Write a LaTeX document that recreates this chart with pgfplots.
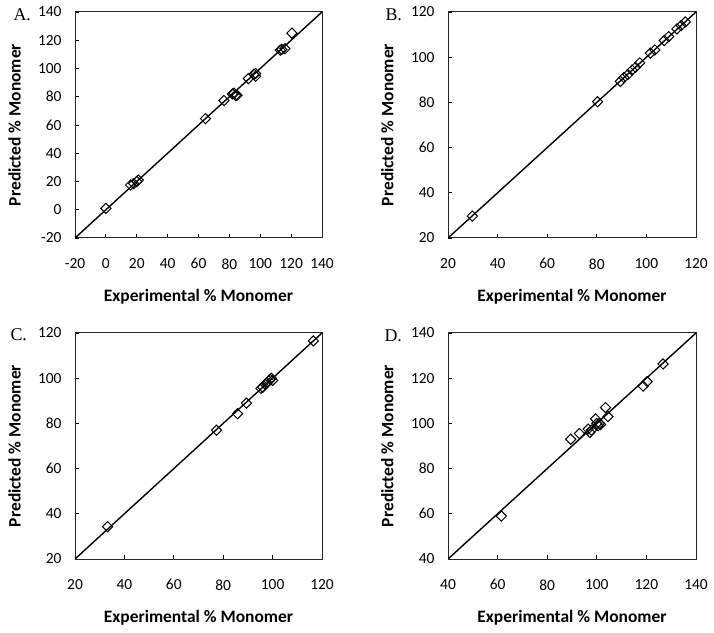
\documentclass[border=0pt]{standalone}
\usepackage{pgfplots}
\pgfplotsset{compat=1.18}
\usepackage{fontspec}
\setmainfont{Carlito}
\newfontfamily\serifA{Liberation Serif}
\pgfplotsset{
  panel/.style={
    scale only axis, width=247bp, height=226bp,
    enlargelimits=false,
    tick align=inside, tickpos=left,
    major tick length=4bp,
    tick style={black, line width=0.8bp},
    axis line style={black!85, line width=1bp},
    ticklabel style={font=\fontsize{15.5}{18}\selectfont},
    /pgf/number format/assume math mode=true,
    xticklabel style={yshift=-17bp},
    yticklabel style={xshift=-10bp},
    label style={font=\bfseries\fontsize{17.5}{20}\selectfont},
    xlabel={Experimental \% Monomer},
    ylabel={Predicted \% Monomer},
    xlabel style={at={(axis description cs:0.5,-0.283)}, anchor=base},
    ylabel style={at={(axis description cs:-0.245,0.5)}, anchor=center},
  },
  pts/.style={only marks, mark=square, mark size=3.6bp,
    mark options={rotate=45, black, line width=1bp, fill=none}},
  diag/.style={black, line width=1.4bp, no marks},
}
\begin{document}
\begin{tikzpicture}
\path[use as bounding box] (0,0) rectangle (714bp,633bp);
% Panel A
\begin{axis}[panel, at={(75bp,395bp)}, anchor=south west,
  xmin=-20, xmax=140, ymin=-20, ymax=140,
  xtick={-20,0,...,140}, ytick={-20,0,...,140}]
\addplot[diag] coordinates {(-20,-20) (140,140)};
\addplot[pts] coordinates {
(0,1) (16,17.5) (18,18.5) (20,20) (21,21) (64.5,64.5) (76.5,77.3)
(82,82) (83,82.5) (84,81) (85,81) (92.3,92.8) (96,96) (97,94.5) (97,96.5)
(113,113) (114,113.5) (116,114) (120.5,125)};
\end{axis}
% Panel B
\begin{axis}[panel, at={(448bp,395bp)}, anchor=south west, width=248bp,
  xmin=20, xmax=120, ymin=20, ymax=120,
  xtick={20,40,...,120}, ytick={20,40,...,120}]
\addplot[diag] coordinates {(20,20) (120,120)};
\addplot[pts] coordinates {
(29.8,29.7) (80.3,80.3) (89.5,89.3) (90.9,91.0) (92.5,92.3) (94.2,94.3)
(95.6,95.5) (97.3,97.5) (101.6,101.8) (103.4,103.2) (107.2,107.4) (109,109.1)
(112.3,112.5) (114,114) (115.7,115.6)};
\end{axis}
% Panel C
\begin{axis}[panel, at={(75bp,74bp)}, anchor=south west,
  xmin=20, xmax=120, ymin=20, ymax=120,
  xtick={20,40,...,120}, ytick={20,40,...,120}]
\addplot[diag] coordinates {(20,20) (120,120)};
\addplot[pts] coordinates {
(33.2,34.3) (77.3,77) (85.8,84.3) (89.4,89) (95.3,95.5) (96,96) (97,97.3)
(97.8,98) (98.5,98.8) (99,99.5) (99.5,100) (100,99) (116.5,116.5)};
\end{axis}
% Panel D
\begin{axis}[panel, at={(448bp,74bp)}, anchor=south west, width=248bp,
  xmin=40, xmax=140, ymin=40, ymax=140,
  xtick={40,60,...,140}, ytick={40,60,...,140}]
\addplot[diag] coordinates {(40,40) (140,140)};
\addplot[pts] coordinates {
(61.5,59) (89.5,93) (93,95.5) (96.5,97.5) (97.2,96) (97.8,97) (99.5,102)
(100,100) (100.5,99) (101,100) (101.5,99.5) (103.5,107) (104.5,103)
(118.7,116.5) (120.3,118.5) (126.7,126.3)};
\end{axis}
\node[anchor=base west, font=\serifA\fontsize{18}{20}\selectfont] at (10bp,612bp) {A.};
\node[anchor=base west, font=\serifA\fontsize{18}{20}\selectfont] at (382bp,612bp) {B.};
\node[anchor=base west, font=\serifA\fontsize{18}{20}\selectfont] at (7bp,292bp) {C.};
\node[anchor=base west, font=\serifA\fontsize{18}{20}\selectfont] at (381bp,291bp) {D.};
\end{tikzpicture}
\end{document}
